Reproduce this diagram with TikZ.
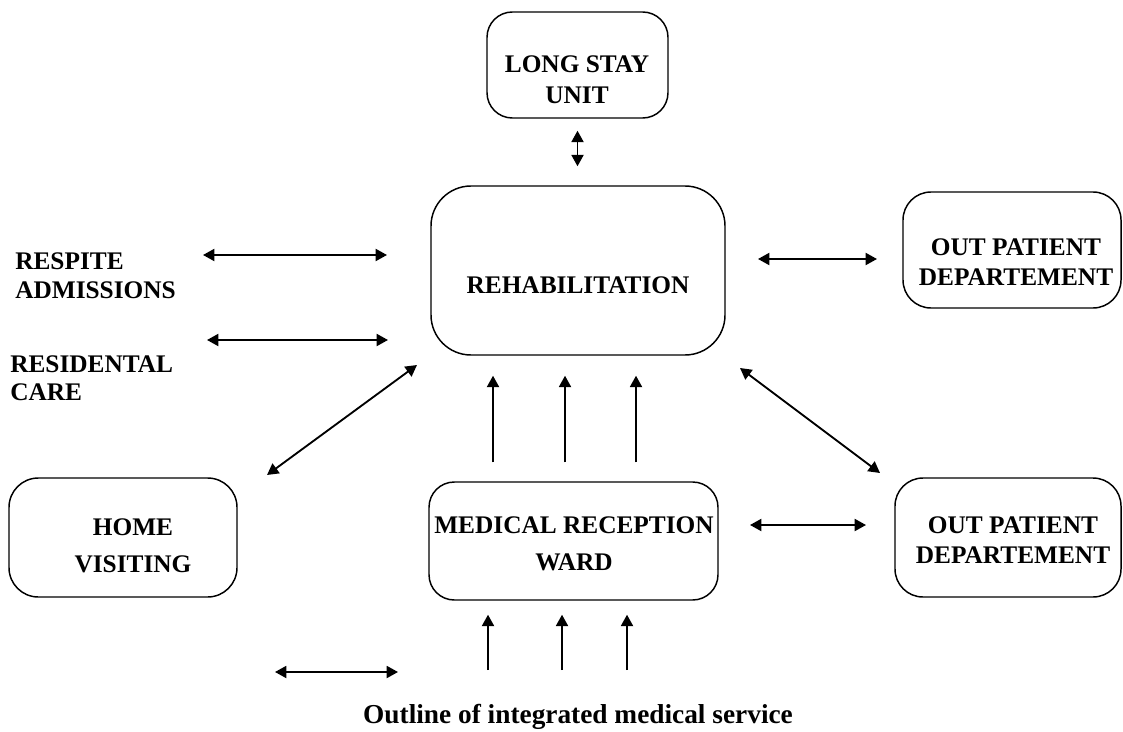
\documentclass[tikz,border=0pt]{standalone}
\usepackage{fontspec}
\setmainfont{Liberation Serif}
\usetikzlibrary{arrows.meta}
\begin{document}
\begin{tikzpicture}[x=0.75pt,y=-0.75pt,
  box/.style={draw, line width=1.1pt, inner sep=0pt},
  lbl/.style={font=\bfseries\fontsize{19}{#1}\selectfont, inner sep=0pt, align=center},
  lbl/.default=22.5,
  lft/.style={font=\bfseries\fontsize{19}{#1}\selectfont, inner sep=0pt, align=left, anchor=north west},
  tip/.style={Triangle[length=9pt,width=9pt]},
  dbl/.style={{Triangle[length=8.5pt,width=9pt]}-{Triangle[length=8.5pt,width=9pt]}, line width=1.4pt},
  uparr/.style={-{Triangle[length=8.5pt,width=9pt]}, line width=1.4pt}]
\useasboundingbox (0,0) rectangle (1123,731);

% boxes
\node[box, rounded corners=19pt, minimum width=135.75pt, minimum height=79.5pt] (lsu) at (577.5,65) {};
\node[box, rounded corners=30pt, minimum width=220.5pt, minimum height=126.75pt] (rehab) at (578,270.5) {};
\node[box, rounded corners=21pt, minimum width=163.5pt, minimum height=87pt] (opd1) at (1012,250) {};
\node[box, rounded corners=21pt, minimum width=169.5pt, minimum height=89.25pt] (opd2) at (1008,537.5) {};
\node[box, rounded corners=22pt, minimum width=171pt, minimum height=89.25pt] (home) at (123,537.5) {};
\node[box, rounded corners=19pt, minimum width=216.75pt, minimum height=88.5pt] (mrw) at (573.5,541) {};

% texts
\node[lbl=23.25] (lsut) at (577,80) {LONG STAY\\UNIT};
\node[lbl] (rehabt) at (578,285) {REHABILITATION};
\node[lbl] (opd1t) at (1016,262.5) {OUT PATIENT\\DEPARTEMENT};
\node[lbl] (opd2t) at (1013,540) {OUT PATIENT\\DEPARTEMENT};
\node[lbl=27.75] (homet) at (133,546) {HOME\\VISITING};
\node[lbl=27.75] (mrwt) at (574,544) {MEDICAL RECEPTION\\WARD};
\node[lft=21.75] (resp) at (15,252) {RESPITE\\ADMISSIONS};
\node[lft=21] (resid) at (10,355) {RESIDENTAL\\CARE};
\node[font=\bfseries\fontsize{20.5}{24}\selectfont, inner sep=0pt, anchor=base] (cap) at (578,723) {Outline of integrated medical service};

% free arrow ends
\coordinate (r1a) at (203,255); \coordinate (r1b) at (387,255);
\coordinate (r2a) at (207,340); \coordinate (r2b) at (388,340);
\coordinate (hva) at (267,475); \coordinate (hvb) at (417,365);
\coordinate (o1a) at (758,259); \coordinate (o1b) at (877,259);
\coordinate (o2a) at (740,368); \coordinate (o2b) at (880,473);
\coordinate (m2a) at (750,525); \coordinate (m2b) at (866,525);
\coordinate (bha) at (275,672); \coordinate (bhb) at (398,672);

% connectors
\draw[dbl, shorten <=9pt, shorten >=14.25pt] (lsu.south) -- (lsu.south |- rehab.north);
\draw[dbl] (r1a) -- (r1b);
\draw[dbl] (r2a) -- (r2b);
\draw[dbl] (hva) -- (hvb);
\draw[dbl] (o1a) -- (o1b);
\draw[dbl] (o2a) -- (o2b);
\draw[dbl] (m2a) -- (m2b);
\draw[dbl] (bha) -- (bhb);
\foreach \x in {493,565,636} {
  \coordinate (t) at (\x,0);
  \draw[uparr, shorten <=14.25pt, shorten >=15pt] (t |- mrw.north) -- (t |- rehab.south);
}
\foreach \x in {488,562,627} {
  \coordinate (t) at (\x,670);
  \draw[uparr, shorten >=10.5pt] (t) -- (t |- mrw.south);
}
\end{tikzpicture}
\end{document}
